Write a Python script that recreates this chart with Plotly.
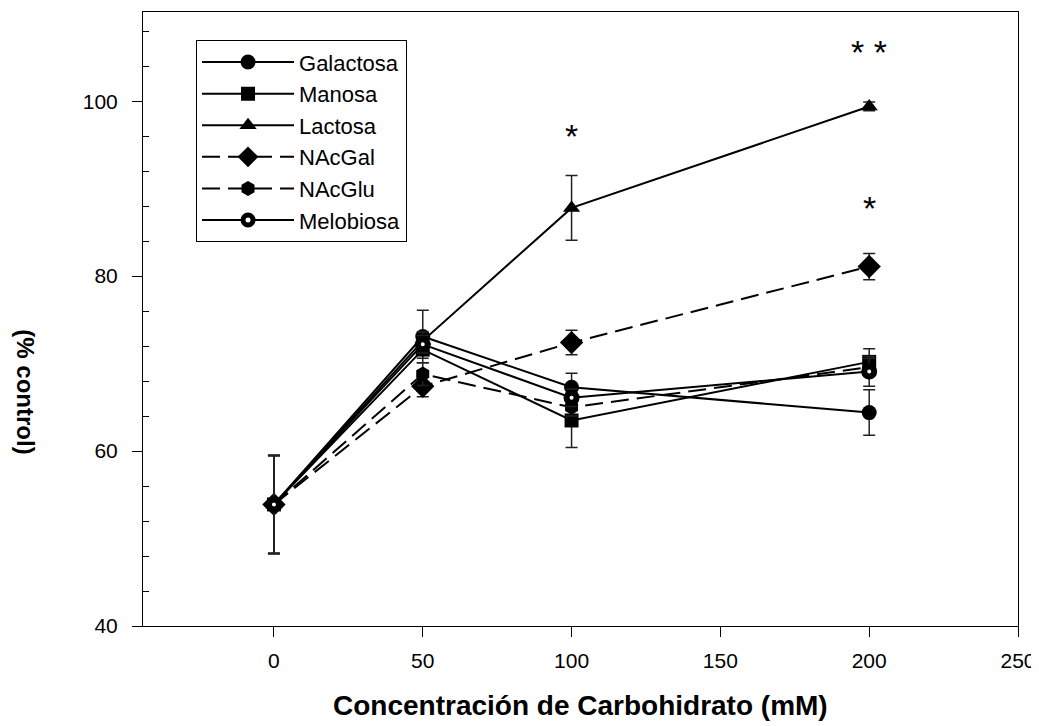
import plotly.graph_objects as go

x_conc = [0, 50, 100, 200]
series_names = ["Galactosa", "Manosa", "Lactosa", "NAcGal", "NAcGlu", "Melobiosa"]
galactosa = [53.9, 73.1, 67.3, 64.4]
galactosa_err = [5.6, 3.0, 1.6, 2.6]
manosa = [53.9, 71.6, 63.5, 70.2]
manosa_err = [5.6, 1.0, 3.1, 1.5]
lactosa = [53.9, 72.6, 87.8, 99.4]
lactosa_err = [5.6, 1.0, 3.7, 0.5]
nacgal = [53.9, 67.4, 72.4, 81.1]
nacgal_err = [5.6, 1.2, 1.4, 1.5]
nacglu = [53.9, 68.8, 65.0, 69.6]
nacglu_err = [5.6, 1.3, 1.0, 1.0]
melobiosa = [53.9, 72.2, 66.1, 69.1]
melobiosa_err = [5.6, 1.0, 1.0, 1.7]

x_ticks = [0, 50, 100, 150, 200, 250]
y_ticks = [40, 60, 80, 100]

sig_x = [100, 200, 200]
sig_y = [96.0, 105.6, 87.8]
sig_text = ["*", "* *", "*"]

values = [galactosa, manosa, lactosa, nacgal, nacglu, melobiosa]
errors = [galactosa_err, manosa_err, lactosa_err, nacgal_err, nacglu_err, melobiosa_err]
symbols = ["circle", "square", "triangle-up", "diamond", "hexagon", "circle"]
sizes = [15, 14, 15, 18, 15, 10]
dashes = ["solid", "solid", "solid", "18px,8px", "18px,8px", "solid"]

fig = go.Figure()
for name, v, e, sym, sz, dsh in zip(series_names, values, errors, symbols, sizes, dashes):
    hollow = name == "Melobiosa"
    fig.add_trace(go.Scatter(
        x=x_conc, y=v, name=name, mode="lines+markers",
        line=dict(color="black", width=2, dash=dsh),
        marker=dict(symbol=sym, size=sz,
                    color="white" if hollow else "black",
                    line=dict(color="black", width=6 if hollow else 0)),
        error_y=dict(type="data", array=e, visible=True, color="#222222",
                     thickness=1.5, width=6),
    ))

for sx, sy, st in zip(sig_x, sig_y, sig_text):
    fig.add_annotation(x=sx, y=sy, text=st, showarrow=False,
                       font=dict(family="Arial", size=34, color="black"))

fig.add_annotation(xref="paper", yref="paper", x=0.5, y=-0.129,
                   text="<b>Concentración de Carbohidrato (mM)</b>",
                   showarrow=False, yanchor="middle",
                   font=dict(family="Arial", size=28, color="black"))
fig.add_annotation(xref="paper", yref="paper", x=-0.134, y=0.381,
                   text="<b>(% control)</b>", textangle=90,
                   showarrow=False, xanchor="center", yanchor="middle",
                   font=dict(family="Arial", size=24, color="black"))

# page body has an 8px margin: shrink the figure so the plot sits where the reference has it
fig.update_layout(
    width=1031, height=718,
    margin=dict(l=135, r=21, t=4, b=100),
    paper_bgcolor="white", plot_bgcolor="white",
    font=dict(family="Arial", size=21, color="black"),
    showlegend=True,
    legend=dict(x=0.0606, y=0.954, xanchor="left", yanchor="top",
                bordercolor="black", borderwidth=1, bgcolor="white",
                font=dict(family="Arial", size=22, color="black"),
                itemwidth=92),
    xaxis=dict(range=[-44, 250], tickvals=x_ticks, ticks="outside", ticklen=10,
               tickwidth=1, tickcolor="black", showline=True, linecolor="black",
               linewidth=1, mirror=True, showgrid=False, zeroline=False,
               ticklabelstandoff=6),
    yaxis=dict(range=[40, 110.2], tickvals=y_ticks, ticks="outside", ticklen=10,
               tickwidth=1, tickcolor="black", showline=True, linecolor="black",
               linewidth=1, mirror=True, showgrid=False, zeroline=False,
               ticklabelstandoff=10,
               minor=dict(tickvals=[44, 48, 52, 56, 64, 68, 72, 76, 84, 88, 92, 96, 104, 108],
                          ticks="inside", ticklen=6, tickcolor="black", showgrid=False)),
)

fig.write_html("out.html")
